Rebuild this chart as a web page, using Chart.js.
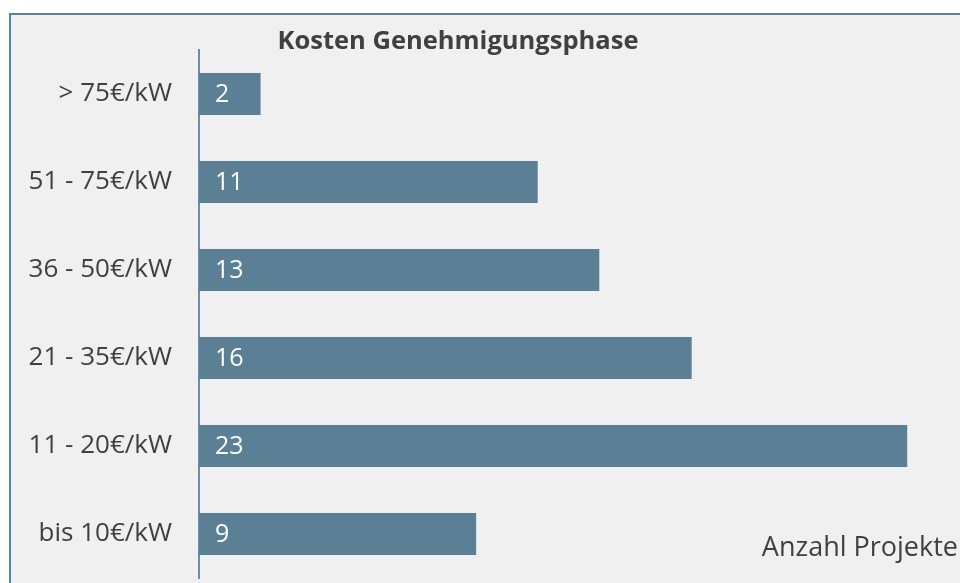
<!DOCTYPE html>
<html>
<head>
<meta charset="utf-8">
<script src="https://cdn.jsdelivr.net/npm/chart.js@4.4.1/dist/chart.umd.min.js"></script>
<style>
  html, body { margin: 0; padding: 0; background: #ffffff; }
  #wrap { width: 960px; height: 583px; position: relative; }
  canvas { display: block; }
</style>
</head>
<body>
<div id="wrap"><canvas id="chart" width="960" height="583"></canvas></div>
<script>
// Cost brackets for the approval phase and number of projects in each
const categories = ['> 75€/kW', '51 - 75€/kW', '36 - 50€/kW', '21 - 35€/kW', '11 - 20€/kW', 'bis 10€/kW'];
const projectCounts = [2, 11, 13, 16, 23, 9];
const chartTitle = 'Kosten Genehmigungsphase';
const valueAxisTitle = 'Anzahl Projekte';

const FONT = '"Open Sans", "Noto Sans", sans-serif';
const TEXT = '#404040';
const BAR = '#5b7f95';
const FRAME = '#5b82a3';
const PANEL = '#f0f0f0';

// Panel background with a thin frame on the top and left edges
const panelPlugin = {
  id: 'panel',
  beforeDraw(chart) {
    const ctx = chart.ctx;
    ctx.save();
    ctx.fillStyle = '#ffffff';
    ctx.fillRect(0, 0, chart.width, chart.height);
    ctx.fillStyle = PANEL;
    ctx.fillRect(10, 14, chart.width - 10, chart.height - 14);
    ctx.strokeStyle = FRAME;
    ctx.lineWidth = 2;
    ctx.beginPath();
    ctx.moveTo(10, chart.height + 2);
    ctx.lineTo(10, 14);
    ctx.lineTo(chart.width + 2, 14);
    ctx.stroke();
    ctx.restore();
  }
};

// Title, value-axis caption and the count printed inside each bar
const labelsPlugin = {
  id: 'labels',
  afterDatasetsDraw(chart) {
    const ctx = chart.ctx;
    ctx.save();
    ctx.fillStyle = TEXT;
    ctx.font = 'bold 25.5px ' + FONT;
    ctx.textAlign = 'center';
    ctx.textBaseline = 'alphabetic';
    ctx.fillText(chartTitle, 458, 49);

    ctx.font = '27px ' + FONT;
    ctx.textAlign = 'right';
    ctx.fillText(valueAxisTitle, chart.width - 2, 556);

    ctx.fillStyle = '#ffffff';
    ctx.font = '25px ' + FONT;
    ctx.textAlign = 'left';
    ctx.textBaseline = 'middle';
    const meta = chart.getDatasetMeta(0);
    meta.data.forEach((bar, i) => {
      ctx.fillText(String(projectCounts[i]), bar.base + 16, bar.y + 1);
    });
    ctx.restore();
  }
};

new Chart(document.getElementById('chart'), {
  type: 'bar',
  data: {
    labels: categories,
    datasets: [{
      data: projectCounts,
      backgroundColor: BAR,
      borderWidth: 0,
      barPercentage: 0.475,
      categoryPercentage: 1
    }]
  },
  options: {
    indexAxis: 'y',
    responsive: false,
    animation: false,
    devicePixelRatio: 1,
    layout: { padding: { top: 50, bottom: 5, left: 0, right: 22 } },
    plugins: {
      legend: { display: false },
      title: { display: false },
      tooltip: { enabled: false }
    },
    scales: {
      x: {
        display: false,
        min: 0,
        max: 24
      },
      y: {
        afterFit(scale) {
          scale.width = 199;
          scale.paddingTop = 0;
          scale.paddingBottom = 0;
        },
        grid: { display: false, drawTicks: false },
        border: { display: true, color: '#6a8eab', width: 2 },
        ticks: {
          color: TEXT,
          padding: 27,
          font: { family: FONT, size: 26 }
        }
      }
    }
  },
  plugins: [panelPlugin, labelsPlugin]
});
</script>
</body>
</html>
